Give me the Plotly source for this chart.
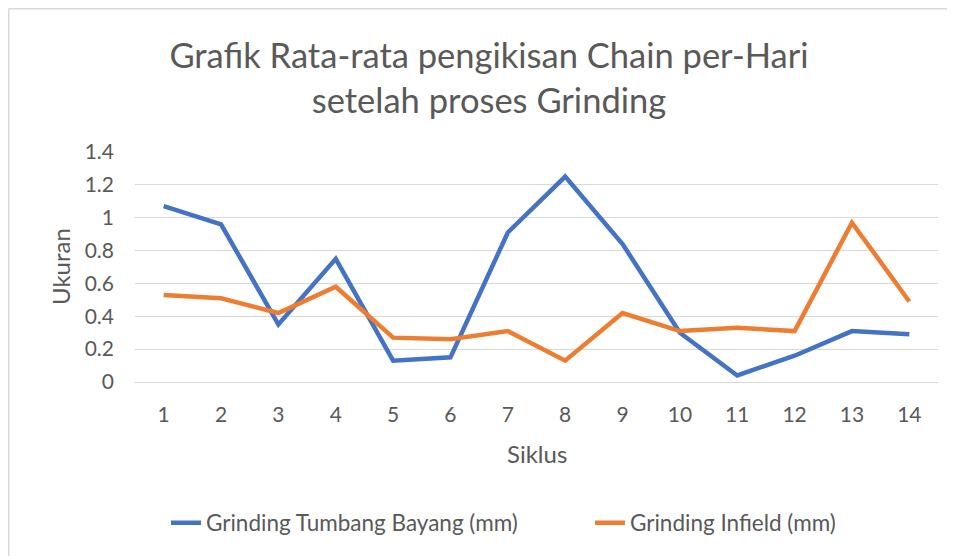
import plotly.graph_objects as go

siklus = [str(i) for i in range(1, 15)]
tumbang_bayang = [1.07, 0.96, 0.35, 0.75, 0.13, 0.15, 0.91, 1.25, 0.84, 0.30, 0.04, 0.16, 0.31, 0.29]
infield = [0.53, 0.51, 0.42, 0.58, 0.27, 0.26, 0.31, 0.13, 0.42, 0.31, 0.33, 0.31, 0.97, 0.49]
y_ticks = [0, 0.2, 0.4, 0.6, 0.8, 1, 1.2, 1.4]
y_tick_labels = ["0", "0.2", "0.4", "0.6", "0.8", "1", "1.2", "1.4"]

# figure is placed at (8, 8) by the page's body margin
W, H = 947, 548
L, R, T, B = 127, 17, 144, 174
pw, ph = W - L - R, H - T - B
txt = "#595959"
font = "Lato, 'Open Sans', sans-serif"

fig = go.Figure()
fig.add_trace(go.Scatter(x=siklus, y=tumbang_bayang, mode="lines",
                         name="Grinding Tumbang Bayang (mm)", legend="legend",
                         line=dict(color="#4472C4", width=4.5)))
fig.add_trace(go.Scatter(x=siklus, y=infield, mode="lines",
                         name="Grinding Infield (mm)", legend="legend2",
                         line=dict(color="#ED7D31", width=4.5)))

leg_common = dict(orientation="h", xref="container", xanchor="left",
                  yref="container", y=1 - 515 / H, yanchor="middle",
                  font=dict(size=22.5, color=txt, family=font),
                  bgcolor="rgba(0,0,0,0)")

fig.update_layout(
    width=W, height=H,
    margin=dict(l=L, r=R, t=T, b=B, autoexpand=False),
    paper_bgcolor="white", plot_bgcolor="white",
    font=dict(family=font, color=txt, size=21),
    title=dict(text="Grafik Rata-rata pengikisan Chain per-Hari<br>setelah proses Grinding",
               x=481 / W, xanchor="center", y=1 - 60 / H, yanchor="middle",
               font=dict(size=34.5, color=txt, family=font)),
    xaxis=dict(type="category", range=[-0.5, 13.5], showgrid=False,
               showline=False, ticks="", ticklabelstandoff=18,
               tickfont=dict(size=21, color=txt)),
    yaxis=dict(range=[0, 1.4], tickvals=y_ticks, ticktext=y_tick_labels,
               showgrid=True, gridcolor="#D9D9D9", gridwidth=1,
               zeroline=True, zerolinecolor="#D9D9D9", zerolinewidth=1,
               showline=False, ticks="", ticklabelstandoff=20,
               tickfont=dict(size=21, color=txt)),
    legend=dict(leg_common, x=158 / W),
    legend2=dict(leg_common, x=582 / W),
    showlegend=True,
)

# axis titles
fig.add_annotation(text="Siklus", xref="paper", yref="paper",
                   x=(529 - L) / pw, y=-(445 - (T + ph)) / ph,
                   xanchor="center", yanchor="middle", showarrow=False,
                   font=dict(size=24, color=txt, family=font))
fig.add_annotation(text="Ukuran", xref="paper", yref="paper", textangle=-90,
                   x=(52 - L) / pw, y=1 - (259 - T) / ph,
                   xanchor="center", yanchor="middle", showarrow=False,
                   font=dict(size=24, color=txt, family=font))

# chart frame (top and left edges visible)
fig.add_shape(type="line", xref="paper", yref="paper",
              x0=(0.75 - L) / pw, x1=(W - L) / pw,
              y0=(H - 0.75 - B) / ph, y1=(H - 0.75 - B) / ph,
              line=dict(color="#D9D9D9", width=1.5))
fig.add_shape(type="line", xref="paper", yref="paper",
              x0=(0.75 - L) / pw, x1=(0.75 - L) / pw,
              y0=(H - 0.75 - B) / ph, y1=-B / ph,
              line=dict(color="#D9D9D9", width=1.5))

fig.write_html("out.html")
